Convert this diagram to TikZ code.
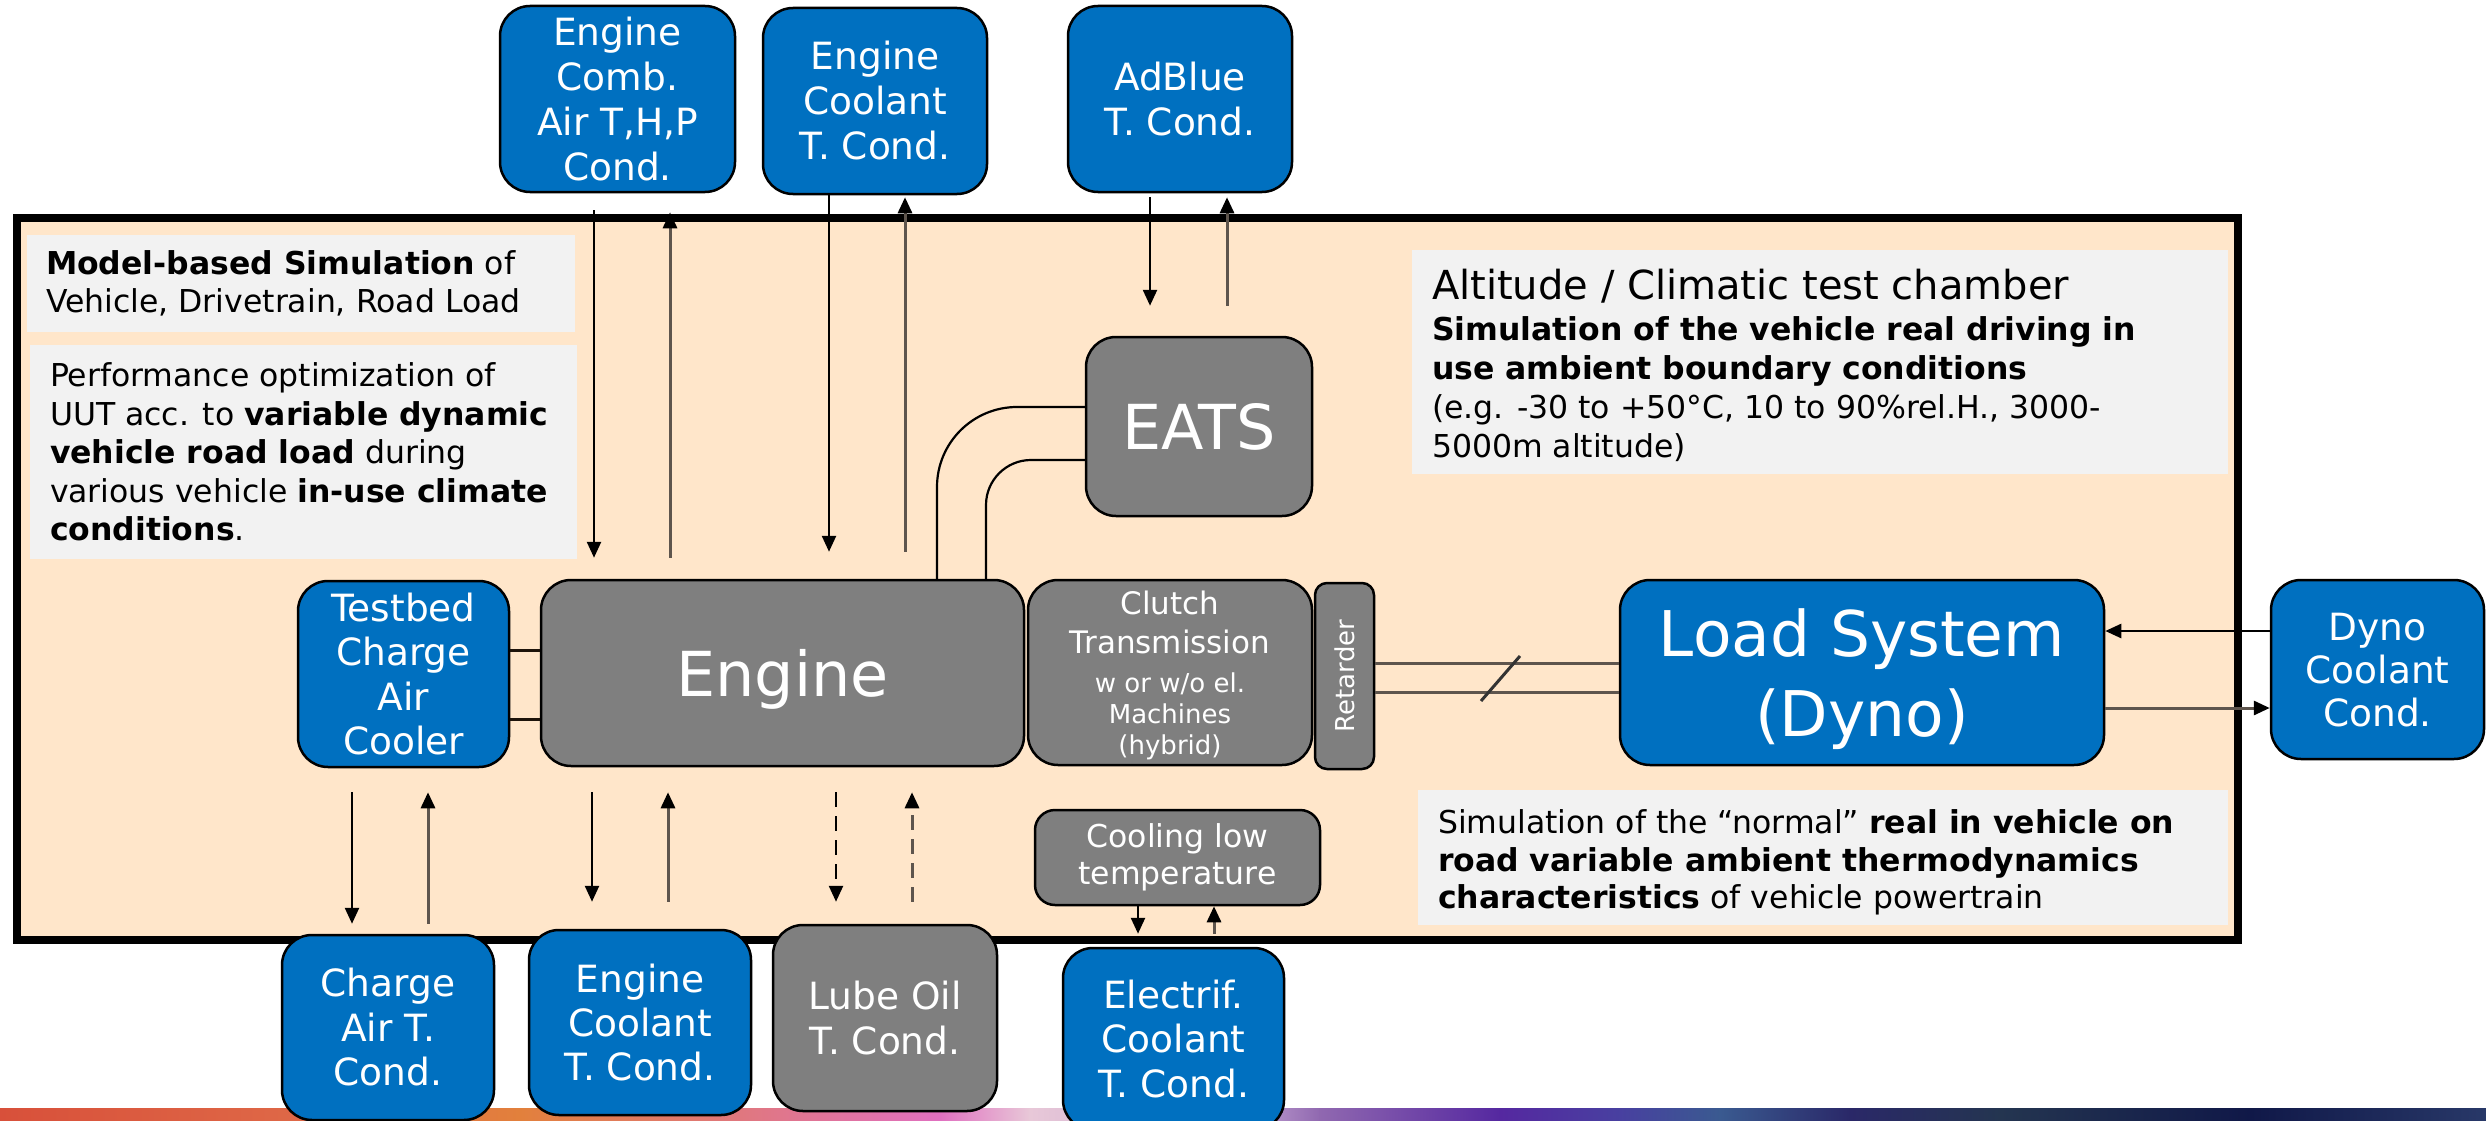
\documentclass[tikz,border=0pt]{standalone}
\usepackage{fontspec}
\setmainfont{DejaVu Sans}
\usetikzlibrary{arrows.meta}
\definecolor{boxblue}{HTML}{0070C0}
\definecolor{boxgray}{HTML}{7F7F7F}
\definecolor{peach}{HTML}{FFE6CA}
\definecolor{notegray}{HTML}{F2F2F2}
\definecolor{linegray}{HTML}{5E554D}
\newcommand\myfs[2]{\fontsize{#1pt}{#2pt}\selectfont}
\tikzset{
  blk/.style={draw=black, line width=2.5pt, rounded corners=30pt, text=white, align=center, inner sep=0pt},
  bluebox/.style={blk, fill=boxblue},
  graybox/.style={blk, fill=boxgray},
  notebg/.style={fill=notegray, inner sep=0pt},
  notetxt/.style={anchor=west, align=left, inner sep=0pt, text=black, font=\myfs{31.5}{38.5}},
  arrdn/.style={line width=2.5pt, draw=black, -{Triangle[length=16pt,width=14pt,color=black]}},
  arrup/.style={line width=3pt, draw=linegray, -{Triangle[length=16pt,width=14pt,color=black]}},
  pipe/.style={line width=2.2pt, draw=black},
  shaft/.style={line width=3pt, draw=linegray},
  link/.style={line width=3pt, draw=black!85!brown},
  dashy/.style={dash pattern=on 15pt off 9pt}
}
\begin{document}
\begin{tikzpicture}[x=1pt,y=-1pt]
\useasboundingbox (0,0) rectangle (2486,1121);
\clip (0,0) rectangle (2486,1121);
\fill[white] (0,0) rectangle (2486,1121);
% bottom gradient bar
\foreach \xa/\xb/\ca/\cb in {0/320/D8503A/DF6A48, 320/520/DF6A48/E2803C, 520/720/E2803C/E07878, 720/940/E07878/E070C0, 940/1030/E070C0/E8C8D8, 1030/1250/E8C8D8/C0A0D0, 1250/1320/C0A0D0/9068B0, 1320/1500/9068B0/5528A0, 1500/1620/5528A0/4840A0, 1620/1720/4840A0/3A5A90, 1720/1850/3A5A90/2A2868, 1850/2000/2A2868/243550, 2000/2250/243550/101848, 2250/2486/101848/283868}{
  \definecolor{gA}{HTML}{\ca}\definecolor{gB}{HTML}{\cb}
  \shade[left color=gA, right color=gB] (\xa-0.5,1108) rectangle (\xb+0.5,1121);
}
% chamber
\draw[line width=8pt, fill=peach] (17,218) rectangle (2238,940);
% notes
\node[notebg, minimum width=548pt, minimum height=97pt] (n1) at (301,283.5) {};
\node[notetxt] (n1t) at ([xshift=19pt]n1.west) {\textbf{Model-based Simulation} of\\Vehicle, Drivetrain, Road Load};
\node[notebg, minimum width=547pt, minimum height=214pt] (n2) at (303.5,452) {};
\node[notetxt] (n2t) at ([xshift=20pt]n2.west) {Performance optimization of\\UUT acc. to \textbf{variable dynamic}\\\textbf{vehicle road load} during\\various vehicle \textbf{in-use climate}\\\textbf{conditions}.};
\node[notebg, minimum width=816pt, minimum height=224pt] (n3) at (1820,362) {};
\node[notetxt, font=\myfs{31.5}{39}] (n3t) at ([xshift=20pt,yshift=-3pt]n3.west) {{\myfs{40}{44}Altitude / Climatic test chamber}\\[2pt]\textbf{Simulation of the vehicle real driving in}\\\textbf{use ambient boundary conditions}\\(e.g. -30 to +50°C, 10 to 90\%rel.H., 3000-\\5000m altitude)};
\node[notebg, minimum width=810pt, minimum height=135pt] (n4) at (1823,857.5) {};
\node[notetxt, font=\myfs{31.5}{37.5}] (n4t) at ([xshift=20pt,yshift=-5pt]n4.west) {Simulation of the “normal” \textbf{real in vehicle on}\\\textbf{road variable ambient thermodynamics}\\\textbf{characteristics} of vehicle powertrain};
% top boxes
\node[bluebox, minimum width=235pt, minimum height=186pt, font=\myfs{37.5}{45}] (combair) at (617.5,99) {Engine\\Comb.\\Air T,H,P\\Cond.};
\node[bluebox, minimum width=224pt, minimum height=186pt, font=\myfs{37.5}{45}] (coolT) at (875,101) {Engine\\Coolant\\T. Cond.};
\node[bluebox, minimum width=224pt, minimum height=186pt, font=\myfs{37.5}{45}] (adblue) at (1180,99) {AdBlue\\T. Cond.};
% main row
\node[graybox, minimum width=226pt, minimum height=179pt, font=\myfs{62}{70}] (eats) at (1199,426.5) {EATS};
\node[graybox, minimum width=483pt, minimum height=186pt, font=\myfs{62}{70}, text depth=0pt] (engine) at (782.5,673) {Engine};
\node[bluebox, minimum width=211pt, minimum height=186pt, font=\myfs{37.5}{44.5}] (testbed) at (403.5,674) {Testbed\\Charge\\Air\\Cooler};
\node[graybox, minimum width=284pt, minimum height=185pt, font=\myfs{26}{31}, text depth=-5pt] (clutch) at (1170,672.5) {{\myfs{31}{39}Clutch}\\[8pt]{\myfs{31}{39}Transmission}\\[8pt]w or w/o el.\\Machines\\(hybrid)};
\node[graybox, rounded corners=12pt, minimum width=59pt, minimum height=186pt] (ret) at (1344.5,676) {};
\node[rotate=90, text=white, font=\myfs{26}{30}, inner sep=0pt] (rett) at (ret.center) {Retarder};
\node[bluebox, minimum width=484pt, minimum height=185pt, font=\myfs{63}{80}, text depth=-9pt] (load) at (1862,672.5) {Load System\\(Dyno)};
\node[bluebox, minimum width=213pt, minimum height=179pt, font=\myfs{37.5}{43}, text depth=0pt] (dynocool) at (2377.5,669.5) {Dyno\\Coolant\\Cond.};
\node[graybox, rounded corners=20pt, minimum width=285pt, minimum height=95pt, font=\myfs{31.5}{37}] (cooling) at (1177.5,857.5) {Cooling low\\temperature};
% bottom boxes
\node[bluebox, minimum width=212pt, minimum height=185pt, font=\myfs{37.5}{44.5}] (chargeT) at (388,1027.5) {Charge\\Air T.\\Cond.};
\node[bluebox, minimum width=222pt, minimum height=185pt, font=\myfs{37.5}{44}] (engcoolB) at (640,1022.5) {Engine\\Coolant\\T. Cond.};
\node[graybox, minimum width=224pt, minimum height=186pt, font=\myfs{37.5}{45}] (lube) at (885,1018) {Lube Oil\\T. Cond.};
\node[bluebox, minimum width=221pt, minimum height=182pt, font=\myfs{37.5}{44.5}] (electrif) at (1173.5,1039) {Electrif.\\Coolant\\T. Cond.};
% pipes engine -> EATS
\draw[pipe, rounded corners=80pt] (engine.north -| 937,0) |- (eats.west |- 0,407);
\draw[pipe, rounded corners=45pt] (engine.north -| 986,0) |- (eats.west |- 0,460);
% testbed - engine links
\draw[link] (testbed.east |- 0,650) -- (engine.west |- 0,650);
\draw[link] (testbed.east |- 0,719) -- (engine.west |- 0,719);
% shaft
\draw[shaft] (ret.east |- 0,663) -- (load.west |- 0,663);
\draw[shaft] (ret.east |- 0,692) -- (load.west |- 0,692);
\draw[line width=3pt, draw=black!80] (1481,701) -- (1520,656);
% top arrows
\draw[arrdn, shorten <=17pt, shorten >=21pt] (combair.south -| 594,0) -- (engine.north -| 594,0);
\draw[arrup, shorten <=21pt, shorten >=19pt] (engine.north -| 670,0) -- (combair.south -| 670,0);
\draw[arrdn, shorten >=27pt] (coolT.south -| 829,0) -- (engine.north -| 829,0);
\draw[arrup, shorten <=27pt, shorten >=2pt] (engine.north -| 905,0) -- (coolT.south -| 905,0);
\draw[arrdn, shorten <=4pt, shorten >=30pt] (adblue.south -| 1150,0) -- (eats.north -| 1150,0);
\draw[arrup, shorten <=30pt, shorten >=4pt] (eats.north -| 1227,0) -- (adblue.south -| 1227,0);
% dyno arrows
\draw[arrdn] (dynocool.west |- 0,631) -- (load.east |- 0,631);
\draw[arrup] (load.east |- 0,708) -- (dynocool.west |- 0,708);
% bottom arrows
\draw[arrdn, shorten <=24pt, shorten >=10pt] (testbed.south -| 352,0) -- (chargeT.north -| 352,0);
\draw[arrup, shorten <=10pt, shorten >=24pt] (chargeT.north -| 428,0) -- (testbed.south -| 428,0);
\draw[arrdn, shorten <=25pt, shorten >=27pt] (engine.south -| 592,0) -- (engcoolB.north -| 592,0);
\draw[arrup, shorten <=27pt, shorten >=25pt] (engcoolB.north -| 668,0) -- (engine.south -| 668,0);
\draw[arrdn, dashy, shorten <=25pt, shorten >=22pt] (engine.south -| 836,0) -- (lube.north -| 836,0);
\draw[arrup, dashy, shorten <=22pt, shorten >=25pt] (lube.north -| 912,0) -- (engine.south -| 912,0);
\draw[arrdn, shorten >=13pt] (cooling.south -| 1138,0) -- (electrif.north -| 1138,0);
\draw[arrup, shorten <=13pt] (electrif.north -| 1214,0) -- (cooling.south -| 1214,0);
\end{tikzpicture}
\end{document}
